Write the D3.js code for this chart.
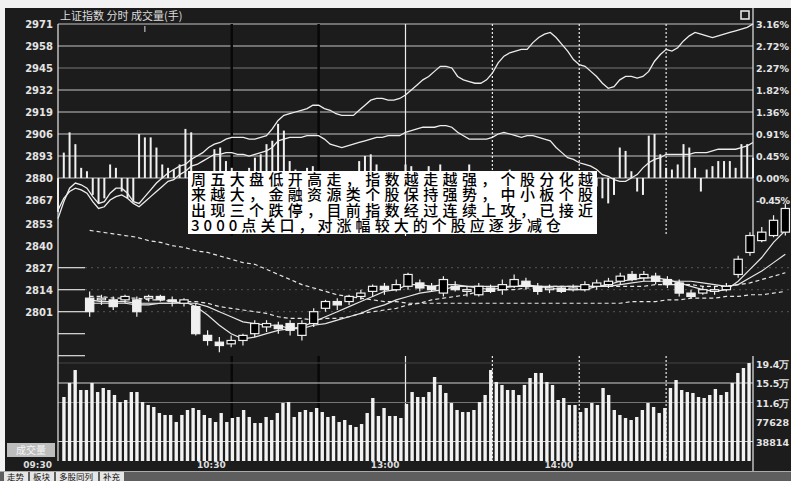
<html>
<head><meta charset="utf-8"></head>
<body style="margin:0;background:#fff">
<svg id="svg" width="791" height="481"></svg>
<script src="https://cdn.jsdelivr.net/npm/d3@7"></script>
<script>

var preClose = 2880;
var priceTicks = [2971, 2958, 2945, 2932, 2919, 2906, 2893, 2880, 2867, 2853, 2840, 2827, 2814, 2801];
var pctLabels = ["3.16%", "2.72%", "2.27%", "1.82%", "1.36%", "0.91%", "0.45%", "0.00%", "-0.45%"];

// 2-minute steps from 09:30 to 15:00
var indexLine = [2856,2866,2874,2877,2876,2874,2869,2865,2866,2871,2874,2874,2871,2866,2865,2869,2873,2877,2880,2883,
  2885,2887,2888,2891,2893,2895,2898,2900,2901,2903,2904,2904,2904,2903,2903,2904,2905,2909,2914,2917,
  2918,2919,2920,2921,2923,2923,2921,2920,2918,2917,2917,2917,2920,2923,2926,2927,2927,2926,2926,2927,
  2929,2932,2935,2938,2940,2943,2946,2946,2945,2940,2938,2937,2936,2936,2938,2942,2948,2952,2954,2955,
  2956,2956,2960,2963,2965,2966,2963,2959,2955,2950,2947,2946,2943,2940,2936,2933,2934,2938,2940,2940,
  2939,2940,2943,2949,2953,2956,2955,2957,2961,2964,2966,2965,2964,2963,2964,2965,2966,2967,2968,2969,2971];
var equalLine = [2861,2868,2872,2874,2873,2871,2866,2862,2863,2867,2869,2870,2868,2865,2863,2866,2869,2872,2875,2878,
  2879,2882,2884,2887,2888,2890,2892,2894,2894,2895,2895,2894,2894,2893,2894,2895,2896,2898,2902,2903,
  2904,2904,2904,2905,2905,2905,2903,2900,2899,2898,2899,2900,2901,2902,2903,2904,2904,2905,2905,2905,
  2907,2908,2909,2910,2910,2910,2911,2911,2910,2907,2905,2903,2903,2903,2903,2904,2906,2907,2906,2905,
  2904,2905,2905,2904,2903,2902,2898,2895,2892,2891,2889,2888,2887,2885,2882,2881,2879,2878,2878,2880,
  2882,2886,2889,2891,2892,2894,2894,2894,2894,2894,2895,2895,2895,2896,2897,2897,2897,2897,2898,2899,2901];
var breadth = [-20,15,27,20,6,4,-10,-15,-12,8,6,-8,-12,-14,26,24,24,18,8,6,
  5,8,29,27,4,-5,3,17,18,10,6,4,3,6,12,14,20,22,32,28,
  10,5,4,6,7,3,2,2,3,2,2,3,10,13,14,8,2,3,2,4,
  8,7,3,2,7,3,8,3,2,2,3,8,2,2,3,2,4,2,5,2,
  3,2,2,3,2,1,2,-2,-3,-2,-4,-3,-6,-5,-12,-15,-10,18,16,4,
  -8,-10,25,26,14,6,5,8,20,18,6,-8,5,7,10,10,10,6,20,20,12];

var volume = [127400,155300,181100,141300,141300,155300,137300,145300,141300,131400,117400,121400,137300,137300,117400,
  111500,107500,95500,91600,91600,77600,91600,101500,105500,101500,91600,85600,77600,95500,77600,85600,87600,101500,
  87600,75600,75600,87600,
  81600,95500,115400,117400,87600,97500,101500,97500,105500,97500,87600,89600,77600,81600,71700,67700,73600,95500,
  125400,89600,105500,89600,89600,85600,113500,137300,127400,127400,137300,167200,151300,135400,115400,101500,97500,
  97500,101500,117400,131400,181100,157200,151300,141300,141300,131400,
  151300,165200,175200,175200,157200,151300,121400,125400,111500,111500,97500,105500,115400,111500,145300,131400,
  101500,91600,85600,81600,87600,101500,115400,107500,95500,105500,145300,161200,141300,137300,135400,127400,125400,
  131400,143300,131400,137300,155300,175200,185100,195000];
var volTicks = [38814, 77628, 116442, 155256, 194070];
var volLabels = ["38814", "77628", "11.6万", "15.5万", "19.4万"];

var timeTicks = [0, 30, 60, 90];
var timeLabels = ["09:30", "10:30", "13:00", "14:00"];

// daily candles pasted into the middle of the picture
var kOpen  = [2809,2808,2808,2808,2808,2809,2810,2808,2806,2804,2787,2783,2782,2784,2788,2792,2793,2794,2787,2794,
  2803,2807,2807,2810,2813,2816,2814,2816,2818,2816,2812,2816,2813,2811,2815,2814,2816,2819,2816,2814,
  2815,2814,2814,2816,2817,2819,2823,2821,2822,2820,2818,2812,2812,2813,2814,2823,2836,2843,2846,2848];
var kHigh  = [2813,2811,2810,2811,2810,2811,2811,2810,2809,2806,2790,2786,2787,2788,2796,2796,2795,2796,2796,2803,
  2808,2809,2811,2814,2817,2818,2820,2824,2820,2818,2822,2819,2816,2818,2817,2820,2823,2821,2818,2817,
  2816,2817,2819,2820,2821,2824,2825,2825,2824,2822,2820,2814,2816,2816,2818,2834,2848,2851,2858,2865];
var kLow   = [2798,2805,2802,2806,2798,2807,2807,2804,2804,2787,2781,2777,2780,2781,2786,2789,2788,2787,2784,2792,
  2801,2802,2805,2808,2810,2811,2813,2814,2813,2813,2810,2813,2810,2810,2812,2811,2815,2814,2811,2812,
  2812,2813,2813,2814,2815,2817,2819,2819,2817,2815,2810,2809,2811,2811,2813,2821,2834,2842,2845,2846];
var kClose = [2801,2809,2804,2810,2801,2810,2808,2807,2808,2788,2784,2781,2784,2787,2794,2794,2791,2790,2794,2801,
  2807,2805,2810,2812,2816,2814,2817,2823,2815,2814,2820,2814,2814,2816,2813,2817,2820,2816,2813,2815,
  2813,2815,2817,2818,2819,2822,2820,2823,2819,2817,2812,2810,2814,2814,2816,2832,2846,2848,2855,2862];
var ma5  = [2806,2806,2806,2806,2805,2805,2806,2806,2807,2804,2799,2793,2788,2785,2786,2788,2790,2791,2792,2795,
  2798,2801,2804,2807,2810,2813,2814,2817,2817,2816,2817,2817,2816,2815,2814,2815,2816,2817,2816,2815,
  2814,2814,2814,2816,2817,2819,2820,2821,2821,2820,2818,2816,2814,2813,2814,2819,2826,2833,2842,2849];
var ma10 = [2808,2807,2807,2807,2806,2806,2806,2806,2806,2806,2804,2801,2798,2795,2794,2793,2793,2791,2791,2793,
  2794,2796,2798,2800,2803,2805,2808,2810,2812,2813,2814,2816,2816,2816,2816,2816,2816,2816,2816,2816,
  2816,2816,2816,2816,2816,2817,2818,2819,2819,2819,2819,2819,2818,2817,2816,2817,2821,2825,2830,2835];
var ma20 = [2810,2810,2809,2809,2809,2808,2808,2807,2807,2807,2806,2804,2803,2802,2801,2800,2798,2797,2797,2796,
  2797,2797,2798,2800,2801,2802,2803,2805,2806,2808,2809,2810,2811,2813,2813,2814,2814,2815,2815,2816,
  2816,2816,2816,2816,2816,2816,2816,2816,2817,2817,2817,2817,2816,2816,2816,2817,2818,2820,2822,2824];
var ma60 = [2849,2848,2847,2846,2845,2843,2842,2840,2839,2837,2836,2834,2832,2830,2829,2826,2823,2820,2817,2815,
  2813,2811,2810,2809,2808,2807,2807,2806,2806,2806,2806,2806,2806,2806,2806,2806,2806,2806,2806,2806,
  2806,2806,2806,2806,2806,2806,2807,2807,2807,2808,2808,2809,2809,2809,2810,2810,2811,2811,2812,2813];

var note = ["周五大盘低开高走，指数越走越强，个股分化越",
  "来越大，金融资源类个股保持强势，中小板个股",
  "出现三个跌停，目前指数经过连续上攻，已接近",
  "3000点关口，对涨幅较大的个股应逐步减仓"];
var tabs = ["走势", "板块", "多股同列", "补充"];

var W = 791, H = 481, L = 58, R = 753;
var svg = d3.select("#svg");
var fnt = "DejaVu Sans";

svg.append("rect").attr("width", W).attr("height", H).attr("fill", "#f2f2f2");
svg.append("rect").attr("x", 5).attr("y", 8).attr("width", W - 5).attr("height", 463).attr("fill", "#1c1c1c");

var x = d3.scaleLinear().domain([0, 120]).range([L, R]);
var y = d3.scaleLinear().domain([preClose, 2971]).range([178, 24]);
var yv = d3.scaleLinear().domain([0, 194070]).range([461, 363.5]);
var xk = d3.scaleBand().domain(d3.range(kClose.length)).range([82, 793]).padding(0.3);
var xv = d3.scaleBand().domain(d3.range(volume.length)).range([60, R]).padding(0.4);

// horizontal grid
var g = svg.append("g");
priceTicks.forEach(function(p, k) {
  if (p >= preClose) {
    g.append("line").attr("x1", L).attr("x2", R).attr("y1", y(p)).attr("y2", y(p))
      .attr("stroke", k == 2 ? "#777" : "#c4c4c4").attr("stroke-width", 1.2);
  } else if (p <= 2827) {
    g.append("line").attr("x1", L).attr("x2", L + 27).attr("y1", y(p)).attr("y2", y(p))
      .attr("stroke", "#e0e0e0").attr("stroke-width", 1.2);
    g.append("line").attr("x1", L + 27).attr("x2", W).attr("y1", y(p)).attr("y2", y(p))
      .attr("stroke", "#555").attr("stroke-dasharray", "2,4");
  }
});
[2788, 2775].forEach(function(p) {
  g.append("line").attr("x1", L).attr("x2", L + 27).attr("y1", y(p)).attr("y2", y(p))
    .attr("stroke", "#e0e0e0").attr("stroke-width", 1.2);
});

// vertical time grid: morning lines show as dark bands, afternoon as white
[30, 45, 60, 75, 90, 105].forEach(function(t) {
  var morning = t < 60;
  [[24, 236], [356, 461]].forEach(function(r) {
    g.append("line").attr("x1", x(t)).attr("x2", x(t)).attr("y1", r[0]).attr("y2", r[1])
      .attr("stroke", morning ? "#080808" : "#eee")
      .attr("stroke-width", morning ? 2.5 : 1.2)
      .attr("stroke-dasharray", t > 60 ? "2,2" : null);
  });
});
g.append("line").attr("x1", x(15)).attr("x2", x(15)).attr("y1", 26).attr("y2", 32).attr("stroke", "#ddd");

// volume grid
g.append("line").attr("x1", L).attr("x2", R).attr("y1", 363).attr("y2", 363).attr("stroke", "#444");
[[yv(155256), "#d0d0d0"], [yv(116442), "#777"], [yv(38814), "#d0d0d0"]].forEach(function(d) {
  g.append("line").attr("x1", L).attr("x2", R).attr("y1", d[0]).attr("y2", d[0]).attr("stroke", d[1]).attr("stroke-width", 1.2);
});

// moving averages and candles
var kIdx = d3.range(kClose.length);
var kx = function(i) { return xk(i) + xk.bandwidth() / 2; };
[[ma60, "4,3"], [ma20, "4,3"], [ma10, null], [ma5, null]].forEach(function(m) {
  svg.append("path").datum(kIdx)
    .attr("d", d3.line().x(kx).y(function(i) { return y(m[0][i]); }))
    .attr("fill", "none").attr("stroke", "#e6e6e6").attr("stroke-width", 1.2)
    .attr("stroke-dasharray", m[1]);
});
svg.append("g").selectAll("line").data(kIdx).join("line")
  .attr("x1", kx).attr("x2", kx)
  .attr("y1", function(i) { return y(kHigh[i]); })
  .attr("y2", function(i) { return y(kLow[i]); })
  .attr("stroke", "#f0f0f0").attr("stroke-width", 1.2);
svg.append("g").selectAll("rect").data(kIdx).join("rect")
  .attr("x", function(i) { return xk(i); })
  .attr("width", xk.bandwidth())
  .attr("y", function(i) { return y(Math.max(kOpen[i], kClose[i])); })
  .attr("height", function(i) { return Math.max(1, Math.abs(y(kOpen[i]) - y(kClose[i]))); })
  .attr("fill", function(i) { return kClose[i] >= kOpen[i] ? "#000" : "#f0f0f0"; })
  .attr("stroke", "#f0f0f0").attr("stroke-width", 1.2);

// breadth bars around the 0% line
svg.append("g").selectAll("rect").data(breadth).join("rect")
  .attr("x", function(d, i) { return x(i) - 1; })
  .attr("width", 2)
  .attr("y", function(d) { return Math.min(y(preClose), y(preClose + d)); })
  .attr("height", function(d) { return Math.abs(y(preClose + d) - y(preClose)); })
  .attr("fill", "#f0f0f0");

// intraday lines
[equalLine, indexLine].forEach(function(s) {
  svg.append("path").datum(s)
    .attr("d", d3.line().x(function(d, i) { return x(i); }).y(function(d) { return y(d); }))
    .attr("fill", "none").attr("stroke", "#ececec").attr("stroke-width", 1.3);
});

// volume bars
svg.append("g").selectAll("rect").data(volume).join("rect")
  .attr("x", function(d, i) { return xv(i); })
  .attr("width", xv.bandwidth())
  .attr("y", function(d) { return yv(d); })
  .attr("height", function(d) { return yv(0) - yv(d); })
  .attr("fill", "#f2f2f2");

// borders
svg.append("line").attr("x1", L).attr("x2", L).attr("y1", 24).attr("y2", 461).attr("stroke", "#e8e8e8").attr("stroke-width", 1.2);
svg.append("line").attr("x1", R).attr("x2", R).attr("y1", 8).attr("y2", 236).attr("stroke", "#e8e8e8").attr("stroke-width", 1.2);
svg.append("line").attr("x1", R).attr("x2", R).attr("y1", 356).attr("y2", 471).attr("stroke", "#e8e8e8").attr("stroke-width", 1.2);
svg.append("rect").attr("x", 741).attr("y", 11).attr("width", 8).attr("height", 8)
  .attr("fill", "none").attr("stroke", "#eee").attr("stroke-width", 1.5);

// title
svg.append("text").attr("x", 60).attr("y", 20).text("上证指数  分时  成交量(手)")
  .attr("font-family", "Noto Sans CJK SC").attr("font-size", 11).attr("fill", "#ddd");

// left and right labels
svg.append("g").selectAll("text").data(priceTicks).join("text")
  .attr("x", 53).attr("y", function(d) { return y(d) + 4; })
  .attr("text-anchor", "end").text(function(d) { return d; })
  .attr("font-family", fnt).attr("font-weight", "bold").attr("font-size", 10).attr("fill", "#e4e4e4");
svg.append("g").selectAll("text").data(pctLabels).join("text")
  .attr("x", 756).attr("y", function(d, i) { return y(priceTicks[i]) + 4; })
  .text(function(d) { return d; })
  .attr("font-family", fnt).attr("font-weight", "bold").attr("font-size", 9.5)
  .attr("letter-spacing", function(d) { return d.length > 5 ? -0.6 : 0; })
  .attr("fill", "#e4e4e4");
svg.append("g").selectAll("text").data(volTicks).join("text")
  .attr("x", 756).attr("y", function(d) { return yv(d) + 4; })
  .text(function(d, i) { return volLabels[i]; })
  .attr("font-family", fnt).attr("font-weight", "bold").attr("font-size", 9.5).attr("fill", "#e4e4e4");

// lower-left button
svg.append("rect").attr("x", 7).attr("y", 443).attr("width", 48).attr("height", 14).attr("fill", "#bdbdbd");
svg.append("text").attr("x", 31).attr("y", 454).attr("text-anchor", "middle").text("成交量")
  .attr("font-family", "Noto Sans CJK SC").attr("font-size", 10).attr("fill", "#f4f4f4");

// time axis
svg.append("g").selectAll("text").data(timeTicks).join("text")
  .attr("x", function(d) { return x(d) - 6; }).attr("y", 468)
  .attr("text-anchor", "end").text(function(d, i) { return timeLabels[i]; })
  .attr("font-family", fnt).attr("font-weight", "bold").attr("font-size", 9).attr("fill", "#ddd");

// tab bar
svg.append("rect").attr("x", 0).attr("y", 471).attr("width", W).attr("height", 10).attr("fill", "#5e5e5e");
svg.append("line").attr("x1", 0).attr("x2", W).attr("y1", 471.5).attr("y2", 471.5).attr("stroke", "#aaa");
var tx = 4;
tabs.forEach(function(t) {
  var w = t.length * 9 + 6;
  svg.append("rect").attr("x", tx).attr("y", 472).attr("width", w).attr("height", 9).attr("fill", "#e6e6e6");
  svg.append("text").attr("x", tx + 3).attr("y", 479.5).text(t)
    .attr("font-family", "Noto Sans CJK SC").attr("font-size", 8.5).attr("fill", "#111");
  tx += w + 2;
});

// annotation box
svg.append("rect").attr("x", 188).attr("y", 171).attr("width", 409).attr("height", 63).attr("fill", "#fff");
svg.append("g").selectAll("text").data(note).join("text")
  .attr("x", 191).attr("y", function(d, i) { return 185 + i * 15.3; })
  .attr("textLength", function(d, i) { return i < 3 ? 402 : 370; })
  .attr("lengthAdjust", "spacing")
  .text(function(d) { return d; })
  .attr("font-family", "Noto Sans CJK SC").attr("font-size", 15).attr("font-weight", 500).attr("fill", "#000");

</script>
</body>
</html>
